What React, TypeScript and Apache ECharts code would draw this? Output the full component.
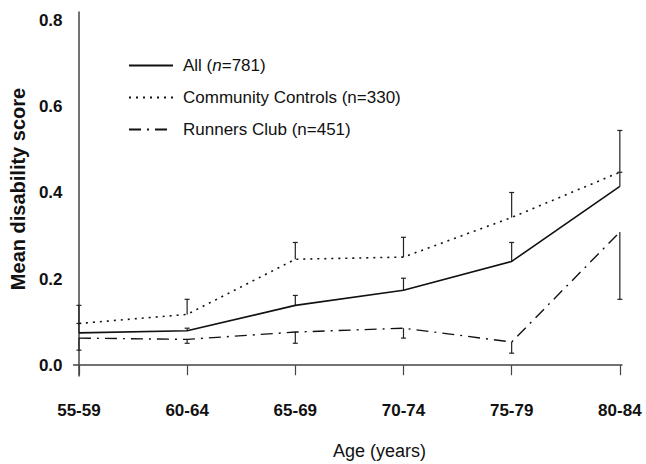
import React, { useEffect, useRef } from "react";
import * as echarts from "echarts";

const categories = ["55-59", "60-64", "65-69", "70-74", "75-79", "80-84"];
const yTicks = [0, 0.2, 0.4, 0.6, 0.8];

const allValues = [0.075, 0.08, 0.139, 0.174, 0.241, 0.415];
const communityValues = [0.097, 0.118, 0.246, 0.251, 0.343, 0.448];
const runnersValues = [0.063, 0.06, 0.077, 0.086, 0.054, 0.309];

const allUpper = [0.097, 0.086, 0.162, 0.202, 0.285, 0.448];
const communityUpper = [0.139, 0.153, 0.285, 0.297, 0.401, 0.545];
const runnersLower = [0.035, 0.051, 0.051, 0.063, 0.028, 0.153];

const seriesNames = ["All (n=781)", "Community Controls (n=330)", "Runners Club (n=451)"];

const INK = "#111";
const FONT = "'Liberation Sans', Arial, Helvetica, sans-serif";

function errorSeries(values: number[], bounds: number[]) {
  return {
    type: "custom",
    silent: true,
    data: values.map((v, i) => [i, v, bounds[i]]),
    renderItem: (_params: any, api: any) => {
      const x = api.value(0);
      const p0 = api.coord([x, api.value(1)]);
      const p1 = api.coord([x, api.value(2)]);
      const style = { stroke: "#222", lineWidth: 1.2 };
      return {
        type: "group",
        children: [
          { type: "line", shape: { x1: p0[0], y1: p0[1], x2: p1[0], y2: p1[1] }, style },
          { type: "line", shape: { x1: p1[0] - 2.5, y1: p1[1], x2: p1[0] + 2.5, y2: p1[1] }, style },
        ],
      };
    },
    z: 1,
  };
}

export default function App() {
  const ref = useRef<HTMLDivElement>(null);
  useEffect(() => {
    if (!ref.current) return;
    const chart = echarts.init(ref.current, undefined, { renderer: "svg" });
    chart.setOption({
      animation: false,
      backgroundColor: "#fff",
      grid: { left: 71, right: 24, top: 12, bottom: 88 },
      legend: {
        data: seriesNames,
        orient: "vertical",
        left: 128,
        top: 57,
        padding: 0,
        itemWidth: 44,
        itemHeight: 14,
        itemGap: 15,
        itemStyle: { opacity: 0, borderWidth: 0 },
        textStyle: {
          fontFamily: FONT,
          fontSize: 17,
          color: INK,
          padding: [0, 0, 0, 5],
          rich: {
            a: { fontFamily: FONT, fontSize: 17, color: INK },
            i: { fontFamily: FONT, fontSize: 17, color: INK, fontStyle: "italic" },
          },
        },
        formatter: (name: string) =>
          name === seriesNames[0] ? "{a|All (}{i|n}{a|=781)}" : name,
      },
      xAxis: {
        type: "value",
        min: -0.05,
        max: 5.02,
        splitLine: { show: false },
        axisLine: { show: true, lineStyle: { color: "#444", width: 1.5 } },
        axisTick: {
          show: true,
          customValues: categories.map((_, i) => i),
          length: 10,
          lineStyle: { color: "#444", width: 1.2 },
        },
        axisLabel: {
          customValues: categories.map((_, i) => i),
          formatter: (v: number) => categories[Math.round(v)],
          margin: 26,
          fontFamily: FONT,
          fontSize: 17,
          fontWeight: "bold",
          color: INK,
        },
      },
      yAxis: {
        type: "value",
        min: -0.025,
        max: 0.82,
        name: "Mean disability score",
        nameLocation: "middle",
        nameRotate: 90,
        nameGap: 40,
        nameTextStyle: { fontFamily: FONT, fontSize: 20, fontWeight: "bold", color: INK, padding: [0, 0, 0, 10] },
        splitLine: { show: false },
        axisLine: { show: true, lineStyle: { color: "#444", width: 1.5 } },
        axisTick: { show: false },
        axisLabel: {
          customValues: yTicks,
          formatter: (v: number) => v.toFixed(1),
          margin: 11,
          fontFamily: FONT,
          fontSize: 17,
          fontWeight: "bold",
          color: INK,
        },
      },
      graphic: [
        {
          type: "text",
          left: 333,
          top: 442,
          style: { text: "Age (years)", font: `18px ${FONT}`, fill: INK },
        },
      ],
      series: [
        {
          name: seriesNames[0],
          type: "line",
          symbol: "none",
          data: allValues.map((v, i) => [i, v]),
          lineStyle: { color: INK, width: 1.6, type: "solid" },
          itemStyle: { color: INK },
          z: 3,
        },
        {
          name: seriesNames[1],
          type: "line",
          symbol: "none",
          data: communityValues.map((v, i) => [i, v]),
          lineStyle: { color: INK, width: 1.6, type: [2, 5] },
          itemStyle: { color: INK },
          z: 3,
        },
        {
          name: seriesNames[2],
          type: "line",
          symbol: "none",
          data: runnersValues.map((v, i) => [i, v]),
          lineStyle: { color: INK, width: 1.4, type: [12, 6, 2, 6] },
          itemStyle: { color: INK },
          z: 3,
        },
        errorSeries(allValues, allUpper),
        errorSeries(communityValues, communityUpper),
        errorSeries(runnersValues, runnersLower),
      ],
    });
    return () => chart.dispose();
  }, []);
  return (
    <div
      ref={ref}
      style={{ position: "fixed", left: 0, top: 0, width: 646, height: 464, background: "#fff" }}
    />
  );
}
